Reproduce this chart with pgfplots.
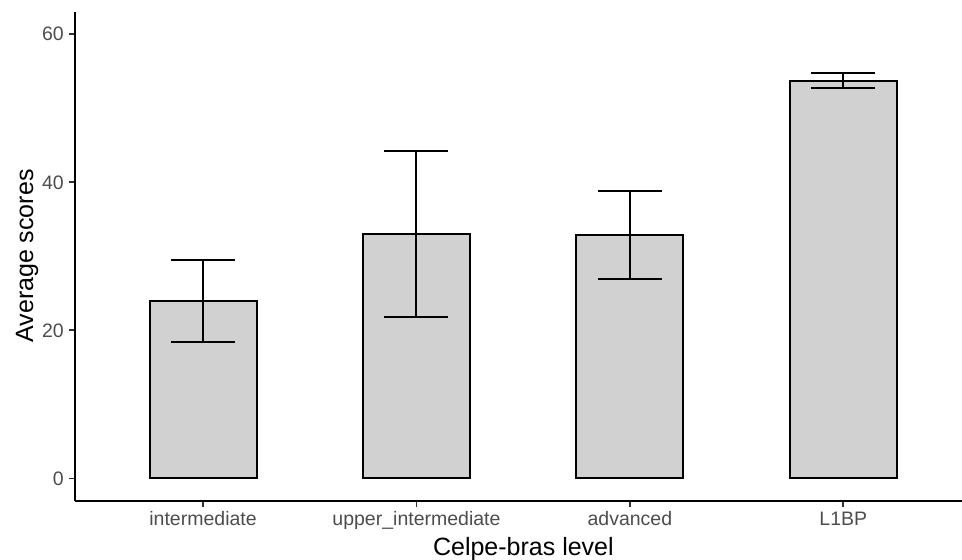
\documentclass[border=0pt]{standalone}
\usepackage{pgfplots}
\pgfplotsset{compat=1.18}
\usepackage{fontspec}
\setmainfont{Liberation Sans}
\definecolor{barfill}{RGB}{209,209,209}
\definecolor{ticklab}{RGB}{77,77,77}
\definecolor{tickcol}{RGB}{51,51,51}
\begin{document}
\begin{tikzpicture}[x=1pt,y=1pt]
\useasboundingbox (0,0) rectangle (962,560);
\begin{axis}[
 at={(75pt,59.3pt)}, anchor=south west,
 scale only axis, width=887pt, height=488.7pt,
 xmin=0.4, xmax=4.556, ymin=-3, ymax=63,
 axis lines=left, axis line style={-, line width=2pt, black},
 xtick={1,2,3,4}, xticklabels={intermediate,upper\_intermediate,advanced,L1BP},
 ytick={0,20,40,60},
 tick align=outside, major tick length=6pt,
 tick style={line width=1.8pt, color=tickcol},
 minor tick num=0,
 ticklabel style={font=\fontsize{19.5}{23}\selectfont, color=ticklab},
 /pgf/number format/assume math mode=true,
 xticklabel style={inner sep=0pt, anchor=north, yshift=-4.8pt},
 yticklabel style={inner sep=0pt, anchor=east, xshift=-5pt},
]
\addplot[ybar, bar width=107pt, fill=barfill, draw=black, line width=2pt] coordinates {(1,24.0) (2,33.0) (3,32.9) (4,53.7)};
\addplot[draw=none, mark=none,
  error bars/.cd, y dir=both, y explicit, error mark=|,
  error mark options={draw=black, mark size=32pt, line width=2pt},
  error bar style={draw=black, line width=2pt}]
  coordinates {(1,24.0) +- (0,5.5) (2,33.0) +- (0,11.2) (3,32.9) +- (0,5.95) (4,53.7) +- (0,1.0)};
\end{axis}
\node[rotate=90, anchor=base, font=\fontsize{25}{30}\selectfont] at (33,304) {Average scores};
\node[anchor=base, font=\fontsize{25}{30}\selectfont] at (523.4,5) {Celpe-bras level};
\end{tikzpicture}
\end{document}
